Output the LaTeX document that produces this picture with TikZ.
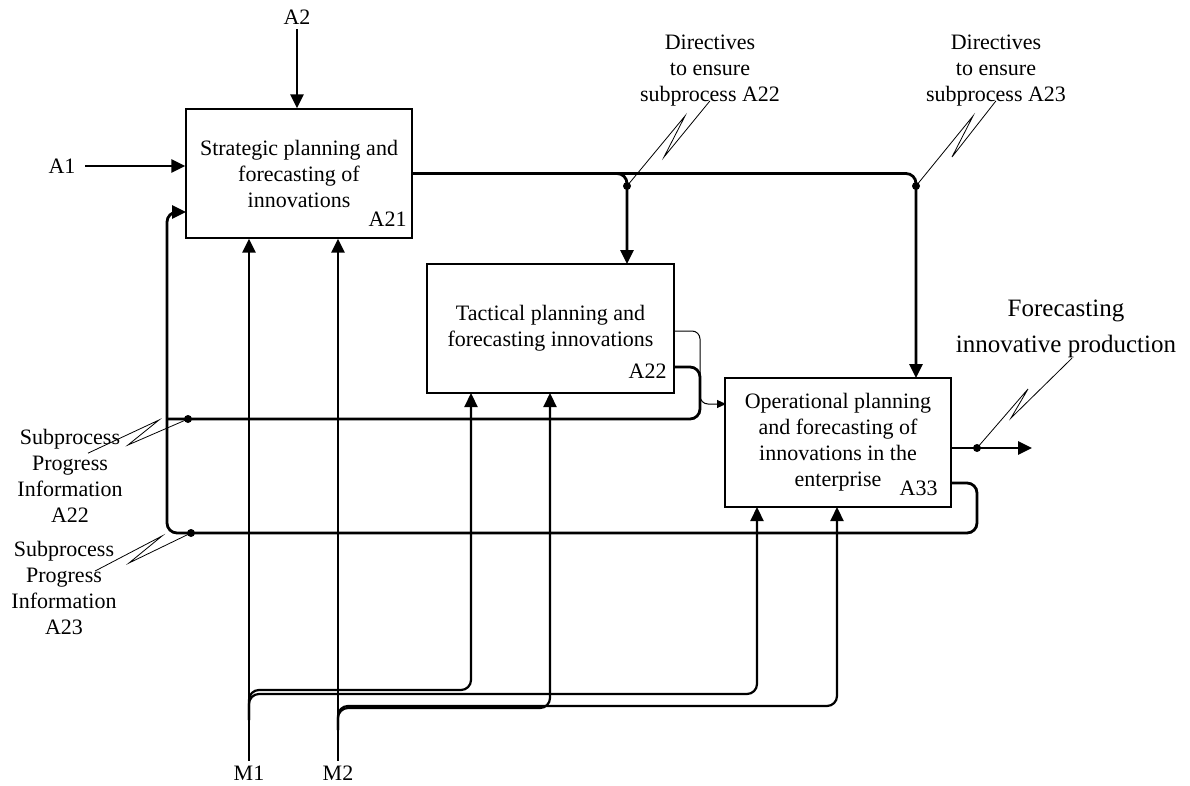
\documentclass[tikz,border=0pt]{standalone}
\usepackage{fontspec}
\setmainfont{Liberation Serif}
\usetikzlibrary{positioning,calc,arrows.meta}

\begin{document}
\begin{tikzpicture}[x=1pt,y=-1pt,
    funcbox/.style={draw,line width=1.4pt,align=center,inner sep=0pt,font=\fontsize{22}{26}\selectfont},
    boxid/.style={anchor=base east,inner sep=0pt,font=\fontsize{22}{26}\selectfont},
    note/.style={align=center,inner sep=0pt,font=\fontsize{22}{26}\selectfont},
    ionode/.style={inner sep=0pt,outer xsep=10pt,outer ysep=5pt,font=\fontsize{22}{26}\selectfont},
    arr/.style={line width=2.8pt,-{Triangle[length=14pt,width=13pt]}},
    fbline/.style={line width=2.8pt},
    branch/.style={line width=2.2pt,-{Triangle[length=14pt,width=13pt]},rounded corners=10pt},
    squig/.style={line width=0.8pt},
    dot/.style={circle,fill,inner sep=0pt,minimum size=8pt}]
    \useasboundingbox (0,0) rectangle (1190,786);

    % function boxes
    \node[funcbox,minimum width=226pt,minimum height=129pt] (strat) at (299,173.5) {Strategic planning and\\forecasting of\\innovations};
    \node[funcbox,minimum width=247pt,minimum height=129pt] (tact) at (550.5,328.5) {Tactical planning and\\forecasting innovations};
    \node[funcbox,minimum width=226pt,minimum height=129pt] (oper) at (838,442.5) {Operational planning\\and forecasting of\\innovations in the\\enterprise};
    \node[boxid] (strat-id) at ($(strat.south east)+(-6,-12)$) {A21};
    \node[boxid] (tact-id) at ($(tact.south east)+(-8,-15)$) {A22};
    \node[boxid] (oper-id) at ($(oper.south east)+(-14,-12)$) {A33};

    % inputs, controls, mechanisms
    \node[ionode] (inA1) at (62,166) {A1};
    \node[ionode] (ctlA2) at (297,17) {A2};
    \node[ionode] (mechM1) at (249,773) {M1};
    \node[ionode] (mechM2) at (338,773) {M2};

    \coordinate (tact-ctl) at (627,264);
    \coordinate (oper-ctl) at (916,378);
    \coordinate (tact-out) at (674,331);
    \coordinate (tact-fb) at (674,367);
    \coordinate (oper-in) at (726,404);
    \coordinate (oper-fb) at (951,483);
    \coordinate (oper-out) at (951,448);
    \coordinate (out-end) at (1032,448);
    \coordinate (fbjoin) at (167,419);
    \coordinate (fbcorner) at (167,533);
    \coordinate (strat-fb) at (186,212);
    \coordinate (tact-m1) at (471,393);
    \coordinate (tact-m2) at (550,393);
    \coordinate (oper-m1) at (757,507);
    \coordinate (oper-m2) at (837,507);
    \coordinate (m1split) at (249,720);
    \coordinate (m2split) at (338,730);

    \draw[arr] (inA1.east) -- (inA1.east -| strat.west);
    \draw[arr] (ctlA2.south) -- (ctlA2.south |- strat.north);
    \draw[arr] (mechM1.north) -- (mechM1.north |- strat.south);
    \draw[arr] (mechM2.north) -- (mechM2.north |- strat.south);

    % mechanism branches
    \draw[branch] (m1split) -- ++(0,-30) -| (tact-m1);
    \draw[branch] (m1split) -- ++(0,-26) -| (oper-m1);
    \draw[branch] (m2split) -- ++(0,-22) -| (tact-m2);
    \draw[branch] (m2split) -- ++(0,-24) -| (oper-m2);

    % directives
    \draw[arr,rounded corners=10pt] (strat.east) -| (tact-ctl);
    \draw[arr,rounded corners=10pt] (strat.east) -| (oper-ctl);

    % tactical to operational
    \draw[line width=1pt,-{Triangle[length=9pt,width=8pt]},rounded corners=8pt] (tact-out) -- ++(26,0) |- (oper-in);

    % feedback
    \draw[fbline,rounded corners=10pt] (tact-fb) -- ++(26,0) |- (fbjoin);
    \draw[arr,rounded corners=10pt] (oper-fb) -- ++(26,0) |- (fbcorner) |- (strat-fb);

    % output
    \draw[arr] (oper-out) -- (out-end);

    % junction dots
    \node[dot] (jA) at (627,186) {};
    \node[dot] (jB) at (916,186) {};
    \node[dot] (jOut) at (977,448) {};
    \node[dot] (jFbA) at (188,419) {};
    \node[dot] (jFbB) at (191,533) {};

    % arrow labels
    \node[note] (dirA) at (710,71) {Directives\\to ensure\\subprocess A22};
    \node[note] (dirB) at (996,71) {Directives\\to ensure\\subprocess A23};
    \node[note,font=\fontsize{25}{36}\selectfont] (outlbl) at (1066,329) {Forecasting\\innovative production};
    \node[note] (infoA) at (70,476) {Subprocess\\Progress\\Information\\A22};
    \node[note] (infoB) at (64,588) {Subprocess\\Progress\\Information\\A23};

    \draw[squig] (jA.center) -- ++(58,-70) -- ++(-21,41) -- ($(dirA.south)+(0,-6)$);
    \draw[squig] (jB.center) -- ++(57,-70) -- ++(-21,41) -- ($(dirB.south)+(0,-6)$);
    \draw[squig] (jOut.center) -- ++(51,-59) -- ++(-17,29) -- ($(outlbl.south)+(6,0)$);
    \draw[squig] (jFbA.center) -- ++(-60,26) -- ++(31,-25) -- ($(infoA.north)+(18,24)$);
    \draw[squig] (jFbB.center) -- ++(-62,30) -- ++(33,-27) -- ($(infoB.north)+(31,30)$);
\end{tikzpicture}
\end{document}
